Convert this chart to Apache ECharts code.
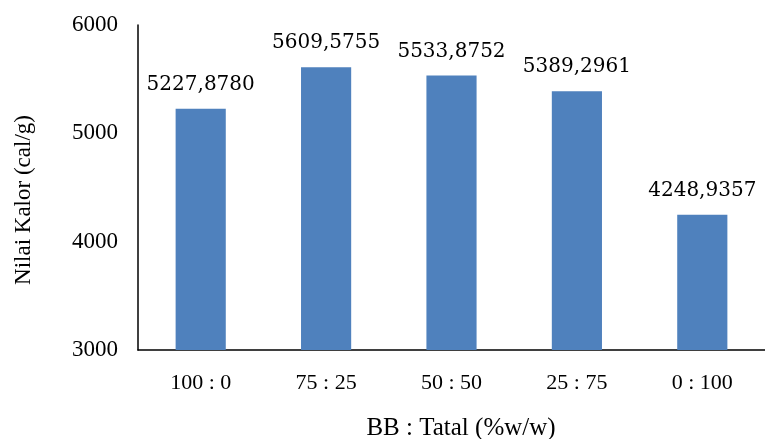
<!DOCTYPE html>
<html>
<head>
<meta charset="utf-8">
<script src="https://cdn.jsdelivr.net/npm/echarts@6/dist/echarts.min.js"></script>
<style>
  html, body { margin: 0; padding: 0; background: #fff; }
  #chart { width: 765px; height: 439px; }
</style>
</head>
<body>
<div id="chart"></div>
<script>
// Heating value by blend ratio
const categories = ['100 : 0', '75 : 25', '50 : 50', '25 : 75', '0 : 100'];
const values = [5227.8780, 5609.5755, 5533.8752, 5389.2961, 4248.9357];
const labelsText = ['5227,8780', '5609,5755', '5533,8752', '5389,2961', '4248,9357'];
const yTicks = { min: 3000, max: 6000, interval: 1000 };

const serif = '"Liberation Serif", "Times New Roman", serif';
const chart = echarts.init(document.getElementById('chart'));
chart.setOption({
  animation: false,
  grid: { left: 138, right: -8, top: 25, bottom: 89 },
  xAxis: {
    type: 'category',
    data: categories,
    axisLine: { lineStyle: { color: '#000', width: 1.5 } },
    axisTick: { show: false },
    axisLabel: { color: '#000', fontFamily: serif, fontSize: 22, margin: 22 }
  },
  yAxis: {
    type: 'value',
    min: yTicks.min, max: yTicks.max, interval: yTicks.interval,
    axisLine: { show: true, lineStyle: { color: '#000', width: 1.5 } },
    axisTick: { show: false },
    splitLine: { show: false },
    axisLabel: {
      color: '#000', fontFamily: serif, fontSize: 23, margin: 20,
      formatter: v => String(v)
    }
  },
  graphic: [{
    type: 'text', x: 461, y: 428,
    style: {
      text: 'BB : Tatal (%w/w)', fill: '#000',
      font: '25px ' + serif, textAlign: 'center', textVerticalAlign: 'middle'
    }
  }, {
    type: 'text', x: 24, y: 200, rotation: Math.PI / 2,
    style: {
      text: 'Nilai Kalor (cal/g)', fill: '#000',
      font: '23px ' + serif, textAlign: 'center', textVerticalAlign: 'middle'
    }
  }],
  series: [{
    type: 'bar',
    data: values,
    barCategoryGap: '60%',
    itemStyle: { color: '#4F81BD' },
    label: {
      show: true, position: 'top', distance: 14,
      color: '#000', fontFamily: '"DejaVu Serif", serif', fontSize: 20,
      formatter: p => labelsText[p.dataIndex]
    }
  }]
});
</script>
</body>
</html>
